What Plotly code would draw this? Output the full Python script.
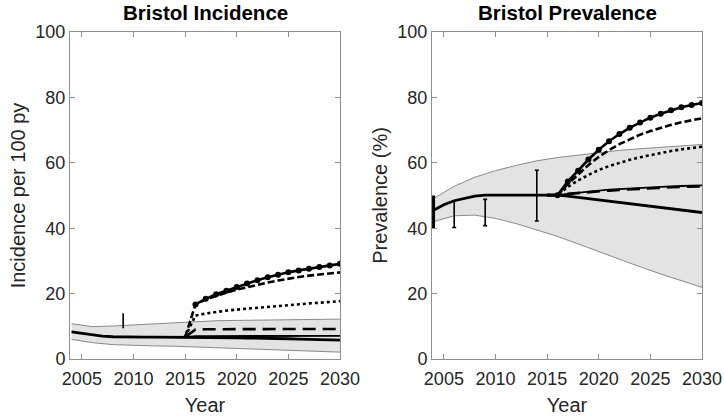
import plotly.graph_objects as go

# ---------------- data ----------------
years_all = list(range(2004, 2031))
years_scen = list(range(2015, 2031))
years_mark = list(range(2016, 2031))
years_band = [2004, 2006, 2008, 2010, 2012, 2014, 2016, 2018, 2020, 2022, 2024, 2026, 2028, 2030]

# Incidence
inc_base = [8.3, 7.8, 7.3, 7.0, 6.8, 6.7, 6.7, 6.7, 6.7, 6.7, 6.7, 6.7, 6.7,
            6.6, 6.6, 6.5, 6.5, 6.4, 6.4, 6.3, 6.2, 6.2, 6.1, 6.0, 6.0, 5.9, 5.8]
inc_band_hi = [10.8, 9.9, 10.1, 10.4, 10.8, 11.2, 11.5, 11.7, 11.8, 11.9, 12.0, 12.1, 12.1, 12.2]
inc_band_lo = [6.0, 5.0, 4.4, 4.1, 4.0, 3.9, 3.7, 3.5, 3.3, 3.1, 2.9, 2.6, 2.4, 2.1]
inc_s_solid = [6.7, 7.0, 7.0, 7.0, 7.0, 7.0, 7.0, 7.0, 7.0, 7.1, 7.1, 7.1, 7.1, 7.1, 7.1, 7.1]
inc_s_longdash = [6.7, 9.0, 9.1, 9.1, 9.2, 9.2, 9.2, 9.2, 9.2, 9.2, 9.2, 9.2, 9.2, 9.2, 9.2, 9.2]
inc_s_dot = [6.7, 13.3, 13.9, 14.4, 14.8, 15.1, 15.4, 15.7, 16.0, 16.3, 16.6, 16.8, 17.0, 17.2, 17.5, 17.7]
inc_s_shortdash = [6.7, 16.7, 18.2, 19.3, 20.3, 21.2, 22.0, 22.7, 23.4, 24.0, 24.6, 25.1, 25.5, 25.9, 26.2, 26.5]
inc_s_marker = [16.7, 18.4, 19.8, 20.9, 22.0, 23.1, 24.1, 25.0, 25.8, 26.5, 27.1, 27.6, 28.1, 28.6, 29.1]
inc_obs_x = [2009]
inc_obs_y = [11.7]
inc_obs_lo = [9.4]
inc_obs_hi = [14.0]

# Prevalence
prev_base = [45.5, 47.2, 48.4, 49.2, 49.8, 50.1, 50.1, 50.1, 50.1, 50.1, 50.1, 50.1, 50.1,
             49.8, 49.4, 49.0, 48.6, 48.2, 47.8, 47.4, 47.0, 46.6, 46.2, 45.9, 45.5, 45.1, 44.8]
prev_band_hi = [49.1, 52.8, 55.6, 57.6, 59.2, 60.6, 61.6, 62.4, 63.1, 63.8, 64.3, 64.8, 65.2, 65.6]
prev_band_lo = [42.0, 43.8, 44.0, 43.0, 41.4, 39.5, 37.5, 35.2, 32.8, 30.5, 28.2, 26.0, 23.9, 21.9]
prev_s_solid = [50.1, 50.1, 50.5, 50.9, 51.2, 51.5, 51.8, 52.0, 52.2, 52.4, 52.6, 52.7, 52.8, 52.9, 53.0, 53.1]
prev_s_longdash = [50.1, 50.1, 50.5, 50.8, 51.0, 51.3, 51.5, 51.7, 51.9, 52.1, 52.2, 52.4, 52.5, 52.6, 52.7, 52.8]
prev_s_dot = [50.1, 50.1, 52.6, 54.6, 56.3, 57.8, 59.0, 60.0, 60.9, 61.7, 62.4, 63.0, 63.6, 64.1, 64.5, 64.9]
prev_s_shortdash = [50.1, 50.1, 53.5, 56.5, 59.3, 61.8, 63.9, 65.7, 67.2, 68.6, 69.7, 70.7, 71.6, 72.4, 73.0, 73.6]
prev_s_marker = [50.1, 54.3, 57.6, 61.0, 64.0, 66.6, 68.8, 70.7, 72.3, 73.8, 75.0, 76.1, 77.0, 77.7, 78.3]
prev_obs_x = [2004, 2006, 2009, 2014]
prev_obs_y = [45.5, 44.3, 44.8, 50.0]
prev_obs_lo = [40.0, 40.2, 40.8, 42.2]
prev_obs_hi = [50.0, 48.4, 48.8, 57.7]

xticks = [2005, 2010, 2015, 2020, 2025, 2030]
yticks = [0, 20, 40, 60, 80, 100]

# ---------------- figure ----------------
fig = go.Figure()
BAND_FILL = "#e3e3e3"
BAND_LINE = "#8a8a8a"
BLK = "#000000"


def add_panel(xa, ya, base, bhi, blo, s_solid, s_ld, s_dot, s_sd, s_mk, ox, oy, olo, ohi, caps):
    fig.add_trace(go.Scatter(x=years_band, y=blo, mode="lines", line=dict(color=BAND_LINE, width=1),
                             xaxis=xa, yaxis=ya, showlegend=False, hoverinfo="skip"))
    fig.add_trace(go.Scatter(x=years_band, y=bhi, mode="lines", line=dict(color=BAND_LINE, width=1),
                             fill="tonexty", fillcolor=BAND_FILL,
                             xaxis=xa, yaxis=ya, showlegend=False, hoverinfo="skip"))
    fig.add_trace(go.Scatter(x=years_scen, y=s_solid, mode="lines", line=dict(color=BLK, width=1.8),
                             xaxis=xa, yaxis=ya, showlegend=False))
    fig.add_trace(go.Scatter(x=years_scen, y=s_ld, mode="lines",
                             line=dict(color=BLK, width=2.6, dash="13px,7px"),
                             xaxis=xa, yaxis=ya, showlegend=False))
    fig.add_trace(go.Scatter(x=years_scen, y=s_dot, mode="lines",
                             line=dict(color=BLK, width=2.6, dash="3px,3px"),
                             xaxis=xa, yaxis=ya, showlegend=False))
    fig.add_trace(go.Scatter(x=years_scen, y=s_sd, mode="lines",
                             line=dict(color=BLK, width=2.6, dash="7px,3px"),
                             xaxis=xa, yaxis=ya, showlegend=False))
    fig.add_trace(go.Scatter(x=years_all, y=base, mode="lines", line=dict(color=BLK, width=2.8),
                             xaxis=xa, yaxis=ya, showlegend=False))
    fig.add_trace(go.Scatter(x=years_mark, y=s_mk, mode="lines+markers",
                             line=dict(color=BLK, width=2.6),
                             marker=dict(symbol="circle", size=6, color=BLK),
                             xaxis=xa, yaxis=ya, showlegend=False))
    for x, y, lo, hi in zip(ox, oy, olo, ohi):
        edge = (x == 2004)
        fig.add_trace(go.Scatter(x=[x], y=[y], mode="markers", marker=dict(size=0.1, color=BLK),
                                 error_y=dict(type="data", symmetric=False, array=[hi - y],
                                              arrayminus=[y - lo], color=BLK,
                                              thickness=(3 if edge else 1.6),
                                              width=(0 if edge else caps)),
                                 xaxis=xa, yaxis=ya, showlegend=False))


add_panel("x", "y", inc_base, inc_band_hi, inc_band_lo, inc_s_solid, inc_s_longdash, inc_s_dot,
          inc_s_shortdash, inc_s_marker, inc_obs_x, inc_obs_y, inc_obs_lo, inc_obs_hi, 0)
add_panel("x2", "y2", prev_base, prev_band_hi, prev_band_lo, prev_s_solid, prev_s_longdash, prev_s_dot,
          prev_s_shortdash, prev_s_marker, prev_obs_x, prev_obs_y, prev_obs_lo, prev_obs_hi, 2)

FONT = "Liberation Sans, Arial, sans-serif"
TXT = "#262626"
AX = "#8f8f8f"

axis_common = dict(showline=True, linecolor=AX, linewidth=1, mirror="ticks", ticks="inside",
                   ticklen=5, tickcolor=AX, showgrid=False, zeroline=False, automargin=False,
                   tickfont=dict(family=FONT, size=18, color=TXT))

W, H = 724, 419
ML, MR, MT, MB = 70, 22, 32, 60
PW = W - ML - MR
PH = H - MT - MB

xtitle = dict(text="Year", font=dict(size=20, color=TXT), standoff=10)

fig.update_layout(
    width=W, height=H,
    margin=dict(l=ML, r=MR, t=MT, b=MB, autoexpand=False),
    paper_bgcolor="white", plot_bgcolor="white",
    font=dict(family=FONT, color=TXT),
    xaxis=dict(domain=[0, 270 / PW], range=[2003.85, 2030], tickvals=xticks, anchor="y",
               ticklabelstandoff=3, title=xtitle, **axis_common),
    yaxis=dict(domain=[0, 1], range=[0, 100], tickvals=yticks, anchor="x",
               title=dict(text="Incidence per 100 py", font=dict(size=20, color=TXT), standoff=4),
               **axis_common),
    xaxis2=dict(domain=[362 / PW, 1], range=[2003.85, 2030], tickvals=xticks, anchor="y2",
                ticklabelstandoff=3, title=xtitle, **axis_common),
    yaxis2=dict(domain=[0, 1], range=[0, 100], tickvals=yticks, anchor="x2",
                title=dict(text="Prevalence (%)", font=dict(size=20, color=TXT), standoff=4),
                **axis_common),
    annotations=[
        dict(text="<b>Bristol Incidence</b>", x=(205 - ML) / PW, y=1 + (MT - 13) / PH,
             xref="paper", yref="paper", showarrow=False,
             font=dict(family=FONT, size=20.5, color="#000"), xanchor="center", yanchor="middle"),
        dict(text="<b>Bristol Prevalence</b>", x=(567 - ML) / PW, y=1 + (MT - 13) / PH,
             xref="paper", yref="paper", showarrow=False,
             font=dict(family=FONT, size=20.5, color="#000"), xanchor="center", yanchor="middle"),
    ],
)

fig.write_html("out.html",
               config={"displayModeBar": False},
               post_script="document.body.style.margin='0';document.body.style.overflow='hidden';")
